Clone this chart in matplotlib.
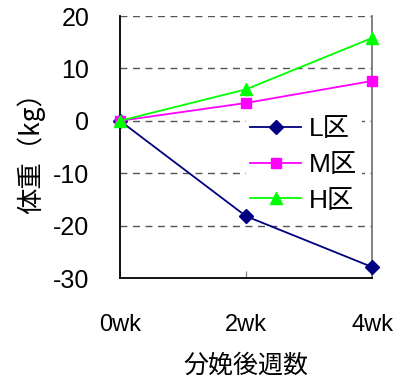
import matplotlib
matplotlib.use("Agg")
import matplotlib.pyplot as plt

weeks = [0, 2, 4]
week_labels = ["0wk", "2wk", "4wk"]
L_vals = [0, -18.2, -27.9]
M_vals = [0, 3.4, 7.6]
H_vals = [0, 6.0, 15.8]
series_names = ["L区", "M区", "H区"]

plt.rcParams["axes.unicode_minus"] = False
latin = "Liberation Sans"
cjk = "Noto Sans CJK JP"

fig = plt.figure(figsize=(3.93, 3.85), dpi=100)
ax = fig.add_axes([120/393, 1-278/385, (372-120)/393, (278-16)/385])

ax.plot(weeks, L_vals, color="#000080", marker="D", markersize=7, lw=1.3, clip_on=False, zorder=3, label=series_names[0])
ax.plot(weeks, M_vals, color="#FF00FF", marker="s", markersize=7, lw=1.3, clip_on=False, zorder=3, label=series_names[1])
ax.plot(weeks, H_vals, color="#00FF00", marker="^", markersize=8, lw=1.3, clip_on=False, zorder=3, label=series_names[2])

ax.set_xlim(0, 4)
ax.set_ylim(-30, 20)
ax.set_yticks([-30, -20, -10, 0, 10, 20])
ax.set_xticks(weeks)
ax.set_xticklabels(week_labels, family=[latin, cjk], fontsize=17)
for t in ax.get_yticklabels():
    t.set_family(latin)
    t.set_fontsize(18)

for y in [-20, -10, 0, 10, 20]:
    ax.axhline(y, color="#555555", lw=1, ls=(0, (5, 4)), zorder=1)

ax.spines["left"].set_color("black")
ax.spines["bottom"].set_color("black")
ax.spines["left"].set_linewidth(1.3)
ax.spines["bottom"].set_linewidth(1.3)
ax.spines["top"].set_visible(False)
ax.spines["right"].set_color("#777777")
ax.spines["right"].set_linewidth(1.3)

ax.tick_params(axis="x", direction="in", length=5, pad=26, color="#777777")
ax.tick_params(axis="y", direction="in", length=0, pad=22)

ax.set_ylabel("体重（kg）", family=[cjk], fontsize=19, labelpad=6)
ax.set_xlabel("分娩後週数", family=[cjk], fontsize=18, labelpad=12)

leg = ax.legend(loc="upper left", bbox_to_anchor=(0.50, 0.63), frameon=True,
                prop={"family": [latin, cjk], "size": 19}, handlelength=1.95,
                borderpad=0.15, labelspacing=0.45, handletextpad=0.3,
                borderaxespad=0)
leg.get_frame().set_edgecolor("none")
leg.get_frame().set_facecolor("white")
leg.get_frame().set_alpha(1)
leg.get_frame().set_boxstyle("square", pad=0)
leg.set_zorder(2)

fig.savefig("out.png", dpi=100)
